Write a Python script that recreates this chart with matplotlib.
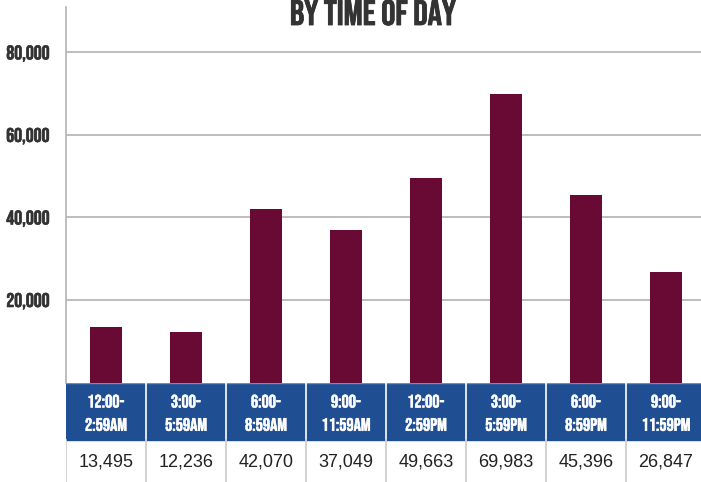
import matplotlib
matplotlib.use("Agg")
import matplotlib.pyplot as plt
from matplotlib import font_manager as fm
from matplotlib.ticker import FuncFormatter
import matplotlib.patheffects as pe

categories = ["12:00-\n2:59AM", "3:00-\n5:59AM", "6:00-\n8:59AM", "9:00-\n11:59AM",
              "12:00-\n2:59PM", "3:00-\n5:59PM", "6:00-\n8:59PM", "9:00-\n11:59PM"]
values = [13495, 12236, 42070, 37049, 49663, 69983, 45396, 26847]
yticks = [20000, 40000, 60000, 80000]
title = "BY TIME OF DAY"

names = {f.name for f in fm.fontManager.ttflist}
cond = "Bebas Neue" if "Bebas Neue" in names else "DejaVu Sans"
reg = "Liberation Sans" if "Liberation Sans" in names else "DejaVu Sans"

W, H = 701, 482
fig = plt.figure(figsize=(W / 100, H / 100), dpi=100)
renderer = fig.canvas.get_renderer()

def fit_size(text, family, target_px, base=20):
    t = fig.text(0, 0, text, fontfamily=family, fontsize=base)
    w = t.get_window_extent(renderer=renderer).width
    t.remove()
    return base * target_px / w

def px(x0, y0, x1, y1):
    return [x0 / W, 1 - y1 / H, (x1 - x0) / W, (y1 - y0) / H]

def bold(color, lw):
    return [pe.withStroke(linewidth=lw, foreground=color)]

BAR = "#680a33"
BLUE = "#1f4e93"
GRID = "#b3b3b3"
TXT = "#333333"

tick_fs = fit_size("80,000", cond, 43)
cat_fs = fit_size("2:59AM", cond, 42)
title_fs = fit_size(title, cond, 166)

ax = fig.add_axes(px(66, 7, 706, 382.5))
x = list(range(len(values)))
ax.bar(x, values, width=0.4, color=BAR, zorder=3)
ax.set_xlim(-0.5, len(values) - 0.5)
ax.set_ylim(0, 91000)
ax.set_yticks(yticks)
ax.yaxis.set_major_formatter(FuncFormatter(lambda v, p: f"{int(v):,}"))
ax.set_xticks([])
ax.tick_params(axis="y", length=0, pad=12)
for lab in ax.get_yticklabels():
    lab.set_fontfamily(cond)
    lab.set_fontsize(tick_fs)
    lab.set_color(TXT)
    lab.set_path_effects(bold(TXT, 0.45))
ax.grid(axis="y", color=GRID, linewidth=1.2, zorder=0)
for s in ["top", "right", "bottom"]:
    ax.spines[s].set_visible(False)
ax.spines["left"].set_color(GRID)
ax.spines["left"].set_linewidth(1.2)

# table below
tx = fig.add_axes(px(66, 382.5, 706, 482))
tx.set_xlim(-0.5, len(values) - 0.5)
tx.set_ylim(0, 99.5)
tx.axis("off")
tx.axhspan(42, 99.5, color=BLUE, zorder=1)
tx.axhline(99.0, color="#6f8fbf", linewidth=1.0, zorder=2)
for i in range(len(values)):
    b = i - 0.5
    if i > 0:
        tx.plot([b, b], [42, 99.5], color="white", linewidth=1.2, zorder=3)
    tx.plot([b, b], [0, 42], color="#cccccc", linewidth=1.2, zorder=3)
    l1, l2 = categories[i].split("\n")
    tx.text(i, 74.5, l1, ha="center", va="baseline", color="white",
            fontfamily=cond, fontsize=cat_fs, zorder=4, path_effects=bold("white", 0.35))
    tx.text(i, 51.2, l2, ha="center", va="baseline", color="white",
            fontfamily=cond, fontsize=cat_fs, zorder=4, path_effects=bold("white", 0.35))
    tx.text(i, 20, f"{values[i]:,}", ha="center", va="center", color="#222222",
            fontfamily=reg, fontsize=13, zorder=4)

fig.text(373 / W, 1 - 25 / H, title, ha="center", va="baseline", fontfamily=cond,
         fontsize=title_fs, color=TXT, path_effects=bold(TXT, 0.6))

fig.savefig("out.png", dpi=100)
